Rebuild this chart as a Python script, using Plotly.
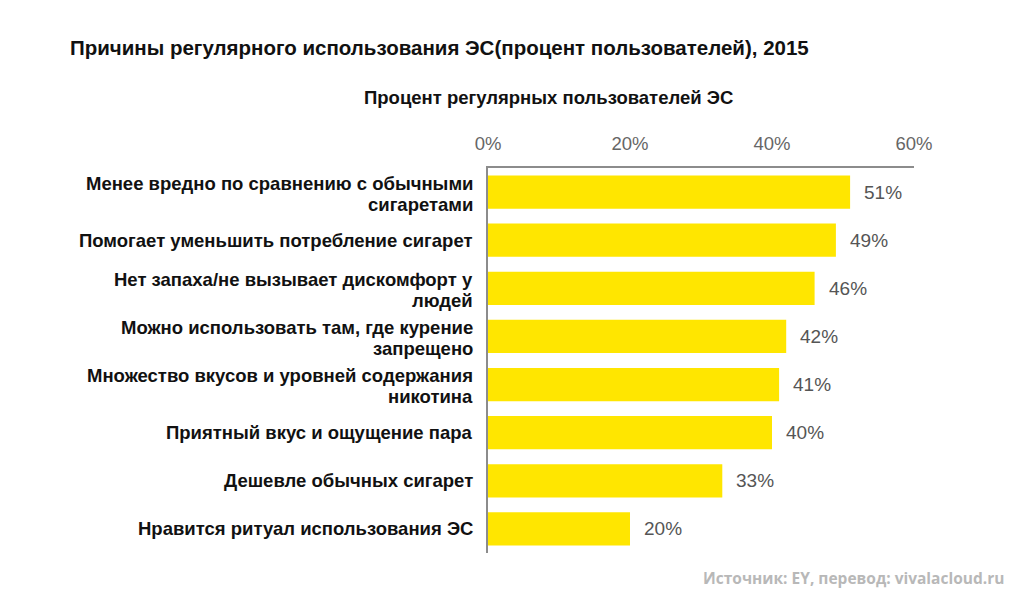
import plotly.graph_objects as go

categories = [
    "Менее вредно по сравнению с обычными<br>сигаретами",
    "Помогает уменьшить потребление сигарет",
    "Нет запаха/не вызывает дискомфорт у<br>людей",
    "Можно использовать там, где курение<br>запрещено",
    "Множество вкусов и уровней содержания<br>никотина",
    "Приятный вкус и ощущение пара",
    "Дешевле обычных сигарет",
    "Нравится ритуал использования ЭС",
]
values = [51, 49, 46, 42, 41, 40, 33, 20]
tick_vals = [0, 20, 40, 60]
tick_text = ["0%", "20%", "40%", "60%"]

title_text = "Причины регулярного использования ЭС(процент пользователей), 2015"
subtitle_text = "Процент регулярных пользователей ЭС"
source_text = "Источник: EY, перевод: vivalacloud.ru"

# page body has an 8px margin; figure size/positions are in figure pixels
W, H = 1004, 587
ml, mr, mt, mb = 480, 98, 160, 42
pw, ph = W - ml - mr, H - mt - mb

def px(x):
    return (x - ml) / pw

def py(y):
    return 1 - (y - mt) / ph

fig = go.Figure()
fig.add_trace(go.Bar(
    x=values, y=categories, orientation="h",
    marker=dict(color="#FFE600", line=dict(width=0)),
    hoverinfo="skip",
))

label_font = dict(family="Liberation Sans, Arial, sans-serif", size=18.5, color="#111111", weight="bold")
for c, v in zip(categories, values):
    fig.add_annotation(
        x=v, y=c, xref="x", yref="y", text=f"{v}%", showarrow=False,
        xanchor="left", xshift=12,
        font=dict(family="Liberation Sans, Arial, sans-serif", size=19, color="#555555"),
    )
    lines = c.split("<br>")
    if len(lines) == 1:
        offsets = [0]
    else:
        offsets = [-9, 12]
    for line, off in zip(lines, offsets):
        fig.add_annotation(
            x=0, y=c, xref="paper", yref="y", text=line, showarrow=False,
            xanchor="right", yanchor="middle", xshift=-14, yshift=-off,
            font=label_font, borderpad=0,
        )

fig.add_annotation(
    x=px(60), y=py(39), xref="paper", yref="paper", text=f"<b>{title_text}</b>",
    showarrow=False, xanchor="left", yanchor="middle",
    font=dict(family="Liberation Sans, Arial, sans-serif", size=20.5, color="#111111"),
)
fig.add_annotation(
    x=px(540), y=py(89), xref="paper", yref="paper", text=f"<b>{subtitle_text}</b>",
    showarrow=False, xanchor="center", yanchor="middle",
    font=dict(family="Liberation Sans, Arial, sans-serif", size=18.5, color="#111111"),
)
fig.add_annotation(
    x=px(998), y=py(570), xref="paper", yref="paper", text=f"<b>{source_text}</b>",
    showarrow=False, xanchor="right", yanchor="middle",
    font=dict(family="Open Sans, sans-serif", size=15.5, color="#b8b8b8"),
)

fig.update_layout(
    width=W, height=H,
    margin=dict(l=ml, r=mr, t=mt, b=mb, pad=0),
    paper_bgcolor="white", plot_bgcolor="white",
    showlegend=False, bargap=0.31,
    xaxis=dict(
        side="top", range=[0, 60], tickvals=tick_vals, ticktext=tick_text,
        showgrid=False, zeroline=False, showline=True, linecolor="#8c8c8c", linewidth=1.5,
        ticks="", tickfont=dict(family="Liberation Sans, Arial, sans-serif", size=18.5, color="#666666"),
        ticklabelstandoff=9,
    ),
    yaxis=dict(
        autorange="reversed", showgrid=False, zeroline=False,
        showline=True, linecolor="#8c8c8c", linewidth=1.5, ticks="",
        showticklabels=False,
    ),
    font=dict(family="Liberation Sans, Arial, sans-serif"),
)

fig.write_html("out.html")
